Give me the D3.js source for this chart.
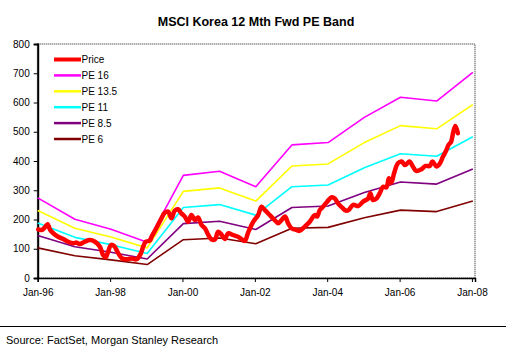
<!DOCTYPE html>
<html>
<head>
<meta charset="utf-8">
<script src="https://cdn.jsdelivr.net/npm/d3@7"></script>
<style>
  html, body { margin: 0; padding: 0; background: #fff; }
  svg { display: block; font-family: Arial, "Liberation Sans", sans-serif; }
</style>
</head>
<body>
<div id="chart"></div>
<script>
// ---------------- data ----------------
const title = "MSCI Korea 12 Mth Fwd PE Band";
const sourceText = "Source: FactSet, Morgan Stanley Research";

const xTickLabels = ["Jan-96", "Jan-98", "Jan-00", "Jan-02", "Jan-04", "Jan-06", "Jan-08"];
const xTickDates = ["1996-01-01", "1998-01-01", "2000-01-01", "2002-01-01", "2004-01-01", "2006-01-01", "2008-01-01"];
const yTicks = [0, 100, 200, 300, 400, 500, 600, 700, 800];

const seriesNames = ["Price", "PE 16", "PE 13.5", "PE 11", "PE 8.5", "PE 6"];

const bandDates = ["1996-01-01", "1997-01-10", "1998-01-10", "1999-01-10", "2000-01-10", "2001-01-10",
  "2002-01-10", "2003-01-10", "2004-01-10", "2005-01-10", "2006-01-10", "2007-01-10", "2008-01-10"];
const pe16 = [274, 201, 167, 122, 351, 365, 312, 455, 463, 549, 618, 605, 703];
const pe135 = [231, 170, 140, 103, 296, 308, 263, 383, 390, 463, 521, 510, 593];
const pe11 = [188, 139, 114, 84, 241, 251, 215, 312, 318, 377, 425, 416, 483];
const pe85 = [145, 107, 88, 65, 186, 194, 166, 241, 246, 292, 328, 321, 373];
const pe6 = [103, 76, 62, 46, 131, 137, 117, 170, 173, 206, 232, 227, 263];

const priceDates = [
  "1996-01-06","1996-02-10","1996-03-13","1996-04-10","1996-05-03","1996-06-06","1996-07-25","1996-09-15","1996-11-03","1996-12-25",
  "1997-01-28","1997-03-01","1997-04-20","1997-06-10","1997-08-01","1997-09-20","1997-10-22","1997-11-18","1997-12-12",
  "1998-01-10","1998-02-12","1998-03-15","1998-05-01","1998-06-15","1998-08-06","1998-09-25","1998-11-07","1998-12-01","1998-12-25",
  "1999-02-06","1999-02-24","1999-04-12","1999-06-03","1999-07-06","1999-08-09","1999-09-12","1999-10-15","1999-11-18","1999-12-21",
  "2000-01-25","2000-02-27","2000-04-01","2000-05-04","2000-06-06","2000-07-12","2000-08-15","2000-09-18","2000-10-21","2000-11-24","2000-12-27",
  "2001-02-01","2001-03-04","2001-04-06","2001-05-25","2001-07-15","2001-08-18","2001-09-21","2001-10-25","2001-12-15",
  "2002-02-03","2002-03-09","2002-04-12","2002-06-01","2002-07-21","2002-08-24","2002-09-27","2002-11-01","2002-12-03",
  "2003-01-06","2003-02-27","2003-03-28","2003-05-18","2003-07-09","2003-08-28","2003-09-21","2003-10-18","2003-11-21",
  "2004-01-01","2004-02-15","2004-03-18","2004-04-19","2004-06-09","2004-06-27","2004-07-31","2004-09-19","2004-11-09","2004-12-28",
  "2005-02-18","2005-03-12","2005-04-06","2005-05-12","2005-06-15","2005-07-18","2005-08-21","2005-09-15","2005-10-10","2005-11-06","2005-12-15",
  "2006-01-21","2006-02-24","2006-04-12","2006-05-15","2006-06-18","2006-08-09","2006-09-21","2006-11-01","2006-11-28",
  "2007-01-09","2007-02-12","2007-03-15","2007-04-15","2007-05-10","2007-06-05","2007-06-27","2007-07-18","2007-08-12"
];
const priceValues = [
  166,164,173,184,166,153,141,133,124,119,
  121,116,124,130,124,107,79,71,90,
  113,109,90,67,64,67,64,84,107,124,
  128,141,170,204,223,227,204,230,235,221,
  210,192,215,198,207,181,170,147,132,132,158,
  147,133,153,147,141,133,127,155,192,
  215,244,232,215,198,187,198,210,187,
  170,164,161,175,192,215,210,232,244,
  261,276,272,255,238,232,231,250,246,261,
  272,290,267,272,290,312,310,341,326,358,392,
  398,386,398,381,366,372,383,383,398,
  381,392,415,435,455,466,500,520,495
];

// ---------------- layout ----------------
const W = 506, H = 356;
const plot = { left: 37.7, right: 475, top: 44, bottom: 278 };
const parse = d3.timeParse("%Y-%m-%d");

const x = d3.scaleTime()
  .domain([parse("1996-01-01"), parse("2008-02-01")])
  .range([plot.left, plot.right]);
const y = d3.scaleLinear().domain([0, 800]).range([plot.bottom, plot.top]);

const svg = d3.select("#chart").append("svg")
  .attr("width", W).attr("height", H);

svg.append("rect").attr("width", W).attr("height", H).attr("fill", "#fff");

// title
svg.append("text")
  .attr("x", 256).attr("y", 26)
  .attr("text-anchor", "middle")
  .attr("font-size", "12.5px").attr("font-weight", "bold")
  .attr("fill", "#000")
  .text(title);

// plot frame (gray, patterned look)
svg.append("rect")
  .attr("x", plot.left).attr("y", plot.top)
  .attr("width", plot.right - plot.left).attr("height", plot.bottom - plot.top)
  .attr("fill", "none")
  .attr("stroke", "#8a8a8a").attr("stroke-width", 2)
  .attr("stroke-dasharray", "1,1");

// y axis
const yAxis = d3.axisLeft(y).tickValues(yTicks).tickSize(4).tickPadding(4);
const gy = svg.append("g").attr("transform", `translate(${plot.left},0)`).call(yAxis);
gy.select(".domain").attr("stroke", "#000").attr("stroke-width", 2);
gy.selectAll(".tick line").attr("stroke", "#000");
gy.selectAll(".tick text").attr("font-size", "10px").attr("font-family", "Arial, 'Liberation Sans', sans-serif").attr("fill", "#000");

// x axis
const xAxis = d3.axisBottom(x)
  .tickValues(xTickDates.map(parse))
  .tickFormat((d, i) => xTickLabels[i])
  .tickSize(4).tickPadding(7);
const gx = svg.append("g").attr("transform", `translate(0,${plot.bottom})`).call(xAxis);
gx.select(".domain").attr("stroke", "#000").attr("stroke-width", 1.5);
gx.selectAll(".tick line").attr("stroke", "#000");
gx.selectAll(".tick text").attr("font-size", "10px").attr("font-family", "Arial, 'Liberation Sans', sans-serif").attr("fill", "#000");

// series
const bands = [
  { name: seriesNames[1], values: pe16, color: "#FF00FF" },
  { name: seriesNames[2], values: pe135, color: "#FFFF00" },
  { name: seriesNames[3], values: pe11, color: "#00FFFF" },
  { name: seriesNames[4], values: pe85, color: "#800080" },
  { name: seriesNames[5], values: pe6, color: "#800000" }
];

const line = d3.line().x(d => x(d[0])).y(d => y(d[1]));

bands.forEach(b => {
  const pts = bandDates.map((d, i) => [parse(d), b.values[i]]);
  svg.append("path").datum(pts)
    .attr("d", line)
    .attr("fill", "none")
    .attr("stroke", b.color)
    .attr("stroke-width", 1.6)
    .attr("stroke-linejoin", "round");
});

const pricePts = priceDates.map((d, i) => [parse(d), priceValues[i]]);
svg.append("path").datum(pricePts)
  .attr("d", line.curve(d3.curveCatmullRom.alpha(0.5)))
  .attr("fill", "none")
  .attr("stroke", "#FF0000")
  .attr("stroke-width", 4.5)
  .attr("stroke-linejoin", "round")
  .attr("stroke-linecap", "round");

// legend
const legendItems = [{ name: seriesNames[0], color: "#FF0000", w: 4 }]
  .concat(bands.map(b => ({ name: b.name, color: b.color, w: 2.5 })));
const lg = svg.append("g");
legendItems.forEach((it, i) => {
  const ly = 59.5 + i * 15.9;
  lg.append("line")
    .attr("x1", 54).attr("x2", 81)
    .attr("y1", ly).attr("y2", ly)
    .attr("stroke", it.color).attr("stroke-width", it.w);
  lg.append("text")
    .attr("x", 81.5).attr("y", ly + 3.6)
    .attr("font-size", "10px")
    .attr("fill", "#000")
    .text(it.name);
});

// source rule and text
svg.append("line")
  .attr("x1", 0).attr("x2", W)
  .attr("y1", 326.5).attr("y2", 326.5)
  .attr("stroke", "#000").attr("stroke-width", 1);
svg.append("text")
  .attr("x", 6).attr("y", 344)
  .attr("font-size", "11px")
  .attr("fill", "#000")
  .text(sourceText);
</script>
</body>
</html>
